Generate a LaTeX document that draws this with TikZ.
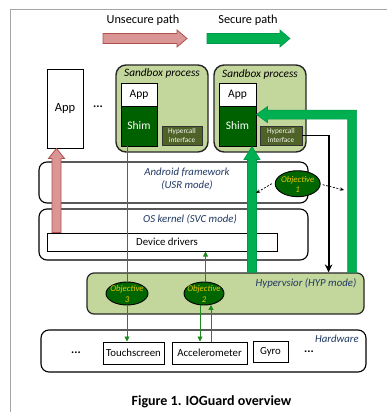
\documentclass[tikz,border=0pt]{standalone}
\usepackage{fontspec}
\setmainfont{Carlito}
\usetikzlibrary{shapes.geometric,arrows.meta,calc}
\definecolor{lgreen}{HTML}{C3D69B}
\definecolor{shimg}{HTML}{006100}
\definecolor{hyperc}{HTML}{4F6228}
\definecolor{bgreen}{HTML}{00B050}
\definecolor{bgreend}{HTML}{00994A}
\definecolor{pinkf}{HTML}{D99694}
\definecolor{pinkd}{HTML}{B0504D}
\definecolor{objg}{HTML}{006600}
\definecolor{objy}{HTML}{E6C800}
\definecolor{bluet}{HTML}{203864}
\definecolor{thing}{HTML}{1E8A1E}
\definecolor{framegray}{HTML}{A6A6A6}
\tikzset{
  sandbox/.style={draw=black!85, line width=1.4, fill=lgreen, rounded corners=10, inner sep=0},
  wbox/.style={draw=black, line width=0.9, fill=white, inner sep=0, font=\fontsize{11.5}{13}\selectfont},
  shimbox/.style={draw=black, line width=0.9, fill=shimg, text=white, inner sep=0, font=\fontsize{11.5}{13}\selectfont},
  hcall/.style={draw=black!80, line width=0.8, fill=hyperc, text=white!85!lgreen, font=\fontsize{7.3}{8.5}\selectfont, align=center, inner sep=0},
  obj/.style={ellipse, draw=black, line width=0.9, fill=objg, inner sep=0},
  objtxt/.style={text=objy, font=\itshape\fontsize{8.8}{10.5}\selectfont, align=center},
  layer/.style={draw=black, line width=1.1, fill=white, rounded corners=8, inner sep=0},
  bluetxt/.style={text=bluet, font=\itshape\fontsize{10.8}{12.5}\selectfont, align=center, inner sep=0},
  hwbox/.style={draw=black, line width=1, fill=white, inner sep=0, font=\fontsize{10.8}{12}\selectfont},
  thinarrow/.style={draw=thing, line width=0.9, -{Triangle[length=5,width=5]}},
  blackarrow/.style={draw=black, line width=1.8, -{Stealth[length=8,width=7.5]}},
  dasharrow/.style={draw=black, line width=0.7, dash pattern=on 2pt off 1.5pt, -{Stealth[length=4,width=3.5]}},
  pinkblock/.style={fill=pinkf, draw=pinkd, line width=0.8},
  greenblock/.style={fill=bgreen, draw=bgreend, line width=0.6},
  plain/.style={inner sep=0},
  dotstxt/.style={inner sep=0, font=\bfseries\fontsize{12}{14}\selectfont}
}
\begin{document}
\begin{tikzpicture}[x=1pt,y=-1pt]
\useasboundingbox (0,0) rectangle (387,412);
\draw[framegray, line width=1] (10,412) -- (10,10) -- (387,10);

% legend
\node[plain, font=\fontsize{12.3}{14}\selectfont] (lunsec) at (143,20) {Unsecure path};
\node[plain, font=\fontsize{12.3}{14}\selectfont] (lsec) at (248,20) {Secure path};
\draw[pinkblock] (103,33.5) -- (177,33.5) -- (177,30) -- (187,38.5) -- (177,47) -- (177,43.5) -- (103,43.5) -- cycle;
\draw[greenblock] (207,33.5) -- (280,33.5) -- (280,30) -- (290,38.5) -- (280,47) -- (280,43.5) -- (207,43.5) -- cycle;

% apps and sandboxes
\node[wbox, minimum width=36, minimum height=79, font=\fontsize{12.5}{14}\selectfont] (bigapp) at (65,108.5) {App};
\node[dotstxt] (dots1) at (98,107) {...};

\node[sandbox, minimum width=92, minimum height=87] (sb1) at (162,108.5) {};
\node[plain, font=\itshape\fontsize{11.3}{13}\selectfont] (sb1t) at (162,73) {Sandbox process};
\node[wbox, minimum width=36, minimum height=23] (app1) at (139,94.5) {App};
\node[shimbox, minimum width=36, minimum height=40] (shim1) at (139,126) {Shim};
\node[hcall, minimum width=40, minimum height=19] (hyp1) at (182,135.5) {Hypercall\\interface};

\node[sandbox, minimum width=92, minimum height=87] (sb2) at (260,108.5) {};
\node[plain, font=\itshape\fontsize{11.3}{13}\selectfont] (sb2t) at (260,74) {Sandbox process};
\node[wbox, minimum width=37, minimum height=23] (app2) at (237.5,94.5) {App};
\node[shimbox, minimum width=37, minimum height=40] (shim2) at (237.5,126) {Shim};
\node[hcall, minimum width=42, minimum height=19] (hyp2) at (281,135.5) {Hypercall\\interface};

% layers
\node[layer, minimum width=269, minimum height=41] (afw) at (173.5,182.5) {};
\node[bluetxt] (afwt) at (187,179) {Android framework\\(USR mode)};
\node[layer, minimum width=269, minimum height=51] (osk) at (173.5,234.5) {};
\node[bluetxt] (oskt) at (190,219.5) {OS kernel (SVC mode)};
\node[hwbox, minimum width=230, minimum height=18] (dd) at (162,242) {};
\node[plain, font=\fontsize{10.8}{12}\selectfont] (ddt) at (167,242) {Device drivers};

\node[obj, minimum width=45, minimum height=26] (obj1) at (297.7,183.7) {};
\node[objtxt] (obj1t) at (297.7,184.5) {Objective\\1};

\node[sandbox, line width=1.2, rounded corners=7, minimum width=277, minimum height=41] (hyp) at (225.5,293.5) {};
\node[bluetxt] (hypt) at (306,283.3) {Hypervsior (HYP mode)};
\node[obj, minimum width=42, minimum height=23] (obj3) at (127,293.5) {};
\node[objtxt] (obj3t) at (127,294) {Objective\\3};
\node[obj, minimum width=40, minimum height=23] (obj2) at (204,293.5) {};
\node[objtxt] (obj2t) at (204,294) {Objective\\2};

\node[layer, minimum width=325, minimum height=42] (hw) at (203.5,351) {};
\node[bluetxt] (hwt) at (337,339) {Hardware};
\node[dotstxt] (dots2) at (76,353) {...};
\node[hwbox, minimum width=61, minimum height=22] (ts) at (133.5,353) {Touchscreen};
\node[hwbox, minimum width=75, minimum height=22] (acc) at (209.5,353) {Accelerometer};
\node[hwbox, minimum width=35, minimum height=21] (gyro) at (270.5,352) {Gyro};
\node[dotstxt] (dots3) at (309,352) {...};

% pink unsecure arrow
\coordinate (pb) at ($(dd.north west)+(10,0)$);
\coordinate (pt) at (pb |- bigapp.south);
\draw[pinkblock] ($(pb)+(-4.5,0)$) -- ($(pt)+(-4.5,10)$) -- ($(pt)+(-8,10)$) -- (pt)
  -- ($(pt)+(8,10)$) -- ($(pt)+(4.5,10)$) -- ($(pb)+(4.5,0)$) -- cycle;

% green secure arrows
\coordinate (gt) at ($(shim2.south east)+(-4.5,0)$);
\coordinate (gb) at (gt |- hyp.north);
\draw[greenblock] ($(gb)+(-4.5,0)$) -- ($(gt)+(-4.5,13)$) -- ($(gt)+(-8,13)$) -- (gt)
  -- ($(gt)+(8,13)$) -- ($(gt)+(4.5,13)$) -- ($(gb)+(4.5,0)$) -- cycle;

\coordinate (lt) at ($(shim2.north east)+(0,9)$);
\coordinate (lb) at ($(hyp.north east)+(-12.5,0)$);
\draw[greenblock] ($(lb)+(-4.5,0)$) -- ($(lb|-lt)+(-4.5,4.5)$) -- ($(lt)+(11,4.5)$) -- ($(lt)+(11,8)$) -- (lt)
  -- ($(lt)+(11,-8)$) -- ($(lt)+(11,-4.5)$) -- ($(lb|-lt)+(4.5,-4.5)$) -- ($(lb)+(4.5,0)$) -- cycle;

% black hypercall arrow
\coordinate (bk) at ($(hyp.north east)+(-36,0)$);
\draw[blackarrow] (hyp2.east) -| (bk);

% thin green lines
\draw[draw=thing, line width=0.9] (obj3.north |- shim1.south) -- (obj3.north);
\draw[thinarrow] (obj3.south) -- (obj3.south |- ts.north);
\draw[thinarrow] ($(obj2.north)+(1.5,0)$) -- ($(obj2.north |- dd.south)+(1.5,0)$);
\coordinate (o2a) at ($(obj2.south)+(-4,0)$);
\coordinate (o2b) at ($(obj2.south)+(7,-0.5)$);
\draw[thinarrow] (o2a) -- (o2a |- acc.north);
\draw[thinarrow] (o2b |- acc.north) -- (o2b);

% dashed arrows from objective 1
\coordinate (d1) at (256,193);
\coordinate (d2) at (344,190);
\draw[dasharrow] ($(obj1.west)+(-3,0)$) -- (d1);
\draw[dasharrow] ($(obj1.east)+(2,1)$) -- (d2);

% caption
\node[plain, font=\bfseries\fontsize{14}{16}\selectfont] (cap) at (211.5,402) {Figure 1. IOGuard overview};
\end{tikzpicture}
\end{document}
